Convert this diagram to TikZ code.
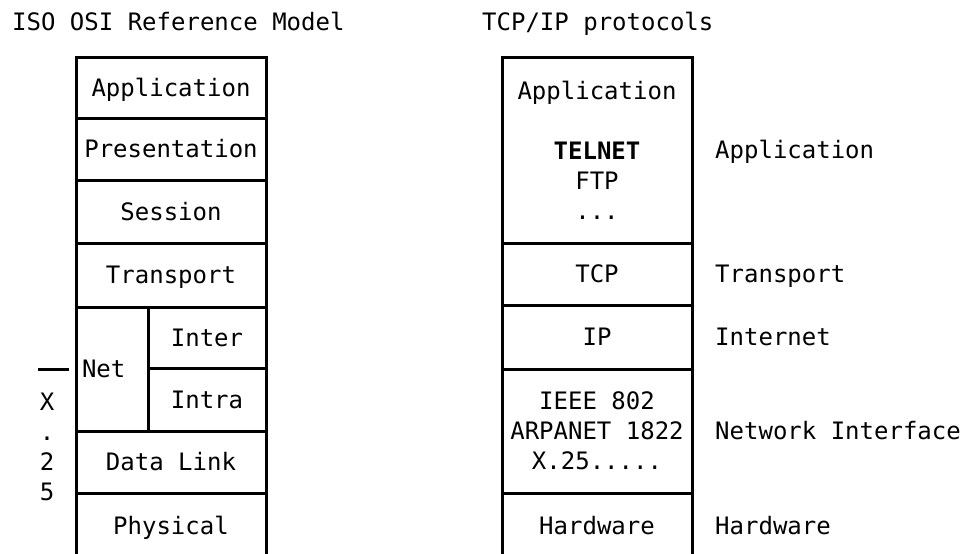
\documentclass[tikz,border=0pt]{standalone}
\usepackage{fontspec}
\setmonofont{DejaVu Sans Mono}
\newcommand{\stackfont}{\fontsize{24}{30}\selectfont\ttfamily}
\tikzset{
	cell/.style={draw,rectangle,line width=3pt,inner sep=0pt,outer sep=0pt,minimum width=190pt,align=center,font=\stackfont},
	layer/.style={cell,text height=21pt,text depth=3.5pt},
	side/.style={inner sep=0pt,anchor=west,font=\stackfont,text height=21pt,text depth=3.5pt},
	heading/.style={side}
}
\begin{document}
\begin{tikzpicture}[x=1pt,y=-1pt]
			\useasboundingbox (0,0) rectangle (969,554);
			\clip (0,0) rectangle (969,554);
			
			% ISO OSI stack
			\node[heading] (osititle) at (12,22) {ISO OSI Reference Model};
			\node[layer,minimum height=61pt] (oapp) at (171,87.5) {Application};
			\node[layer,minimum height=62pt] (opres) at (171,149) {Presentation};
			\node[layer,minimum height=63pt] (osess) at (171,211.5) {Session};
			\node[layer,minimum height=64pt] (otrans) at (171,275) {Transport};
			\node[layer,minimum width=72pt,minimum height=124pt,text width=60pt,align=left] (onet) at (112,369) {Net};
			\node[layer,minimum width=118pt,minimum height=61pt] (ointer) at (207,337.5) {Inter};
			\node[layer,minimum width=118pt,minimum height=63pt] (ointra) at (207,399.5) {Intra};
			\node[layer,minimum height=62pt] (olink) at (171,462) {Data Link};
			\node[layer,minimum height=66pt] (ophys) at (171,526) {Physical};
			
			% X.25 marker
			\node[inner sep=0pt,align=center,font=\stackfont] (xtf) at (47,447) {X\\.\\2\\5};
			\draw[line width=3pt] ([xshift=-7pt]onet.west) -- ([xshift=-38pt]onet.west);
			
			% TCP/IP stack
			\node[heading] (tcptitle) at (482,22) {TCP/IP protocols};
			\node[cell,minimum height=186pt] (tapp) at (597,150) {Application\\ \\\textbf{TELNET}\\FTP\\...};
			\node[layer,minimum height=62pt] (ttcp) at (597,274) {TCP};
			\node[layer,minimum height=64pt] (tip) at (597,337) {IP};
			\node[cell,minimum height=124pt] (tnet) at (597,431) {IEEE 802\\ARPANET 1822\\X.25.....};
			\node[layer,minimum height=66pt] (thw) at (597,526) {Hardware};
			
			% layer names
			\node[side] (lapp) at (715,150) {Application};
			\node[side] (ltrans) at (715,274) {Transport};
			\node[side] (linet) at (715,337) {Internet};
			\node[side] (lnet) at (715,431) {Network Interface};
			\node[side] (lhw) at (715,526) {Hardware};
		\end{tikzpicture}
\end{document}
